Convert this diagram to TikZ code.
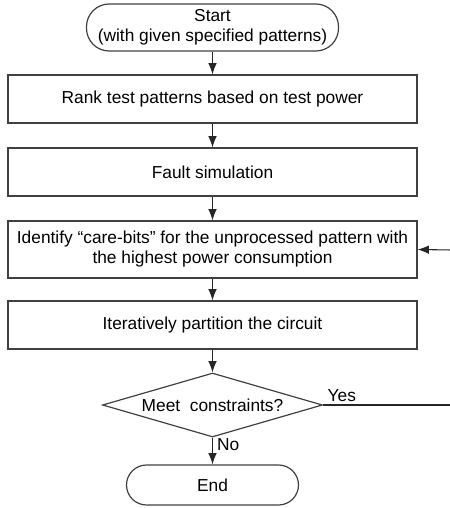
\documentclass[tikz,border=0pt]{standalone}
\usepackage{fontspec}
\setmainfont{Liberation Sans}
\usetikzlibrary{shapes.geometric,arrows.meta}

\tikzset{
  flowline/.style={line width=0.8pt, draw=black!85},
  flowarrow/.style={flowline, -{Latex[length=8.5pt,width=6.5pt]}},
  procbox/.style={draw=black!75, line width=0.9pt, rectangle, inner sep=0pt,
    minimum width=306.75pt, minimum height=36pt, align=center},
  terminal/.style={draw=black!75, line width=0.9pt, rectangle, inner sep=0pt, align=center},
  decision/.style={draw=black!75, line width=0.9pt, diamond, inner sep=0pt,
    shape aspect=3.4, minimum width=165pt, minimum height=48pt},
  lbl/.style={inner sep=0pt}
}

\begin{document}
\begin{tikzpicture}[x=0.75pt, y=-0.75pt, font=\fontsize{13}{15}\selectfont]
  \useasboundingbox (0,0) rectangle (450,508);

  % terminals, process steps and the decision
  \node[terminal, minimum width=189pt, minimum height=35.25pt, rounded corners=17pt]
    (start) at (212.5,27.5) {Start\\(with given specified patterns)};
  \node[procbox] (rank) at (212.5,99) {Rank test patterns based on test power};
  \node[procbox] (fault) at (212.5,172) {Fault simulation};
  \node[procbox, minimum height=42.75pt] (ident) at (212.5,249.5)
    {Identify “care-bits” for the unprocessed pattern with\\the highest power consumption};
  \node[procbox] (iter) at (212.5,325) {Iteratively partition the circuit};
  \node[decision] (dec) at (212.5,405) {Meet\ \ constraints?};
  \node[terminal, minimum width=129pt, minimum height=30pt, rounded corners=15pt]
    (finish) at (212.5,485) {End};

  % loose ends of the loop back
  \coordinate (yesend) at (452,405);
  \coordinate (loopin) at (452,250);

  % connectors
  \draw[flowarrow] (start) -- (rank);
  \draw[flowarrow] (rank) -- (fault);
  \draw[flowarrow] (fault) -- (ident);
  \draw[flowarrow] (ident) -- (iter);
  \draw[flowarrow] (iter) -- (dec.north);
  \draw[flowarrow] (dec.south) -- (finish.north)
    node[lbl, anchor=north west, pos=0.02, xshift=3pt] {No};
  \draw[flowline] (dec.east) -- (yesend)
    node[lbl, anchor=south west, pos=0, xshift=3pt, yshift=2pt] {Yes};
  \draw[flowarrow] (loopin) -- (ident.east);
\end{tikzpicture}
\end{document}
